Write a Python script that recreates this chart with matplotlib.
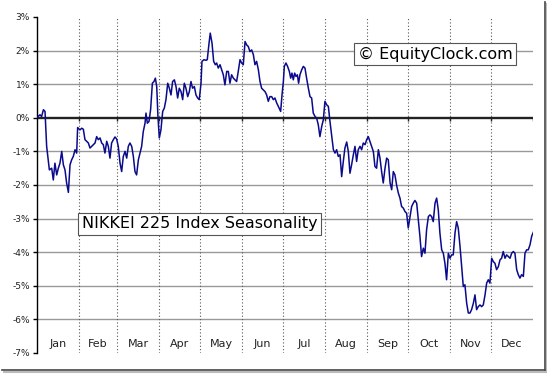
import numpy as np
import matplotlib
matplotlib.use("Agg")
import matplotlib.pyplot as plt
from matplotlib.lines import Line2D

# NIKKEI 225 seasonal profile (day of year, % change)
days = [0.2, 2.2, 3.4, 4.7, 5.9, 7.1, 9.1, 10.8, 12.0, 13.2, 14.5, 15.7, 16.9, 18.2, 19.4, 20.6, 21.8, 23.1,
        24.3, 25.5, 26.7, 28.0, 29.2, 29.9, 31.6, 32.9, 34.1, 35.3, 36.5, 37.8, 39.0, 40.2, 41.5, 42.7, 43.9, 45.1,
        46.4, 47.6, 48.8, 50.0, 51.3, 52.5, 53.7, 54.9, 56.2, 57.4, 58.6, 59.8, 61.1, 62.3, 63.5, 64.8, 66.0, 67.2,
        68.4, 69.7, 70.9, 72.1, 73.3, 74.6, 75.8, 77.0, 78.2, 79.5, 80.2, 81.2, 82.4, 83.6, 84.9, 86.1, 87.1, 88.1,
        89.0, 90.0, 91.2, 92.5, 93.7, 94.9, 96.2, 97.4, 98.6, 99.8, 101.1, 102.3, 103.5, 104.7, 106.0, 107.2, 108.4,
        109.6, 110.9, 112.1, 113.3, 114.5, 115.8, 117.0, 118.2, 119.4, 120.7, 121.4, 122.9, 124.4, 125.3, 126.6,
        127.5, 128.8, 130.0, 131.2, 132.2, 133.4, 134.7, 135.9, 137.1, 138.3, 139.6, 140.8, 142.0, 143.2, 144.5,
        145.7, 146.9, 148.1, 149.4, 150.6, 151.8, 153.1, 154.3, 155.5, 156.7, 158.0, 159.2, 160.4, 161.6, 162.9,
        164.1, 165.3, 166.5, 167.8, 169.0, 170.2, 171.4, 172.7, 173.9, 175.1, 176.4, 177.6, 179.3, 180.3, 181.3,
        182.0, 183.2, 184.4, 185.7, 186.7, 187.6, 188.6, 189.6, 190.6, 191.6, 192.5, 193.5, 194.8, 196.0, 197.2,
        198.4, 199.7, 200.9, 202.1, 203.3, 204.6, 205.8, 207.0, 208.2, 209.5, 210.7, 211.9, 213.1, 214.4, 215.6,
        216.8, 218.1, 219.3, 220.5, 221.7, 223.0, 224.2, 225.4, 226.6, 227.9, 229.1, 230.3, 231.5, 232.8, 234.0,
        235.2, 236.4, 237.7, 238.9, 240.1, 241.4, 242.6, 243.8, 245.0, 246.3, 247.5, 248.7, 249.9, 251.2, 252.4,
        253.6, 254.8, 256.1, 257.3, 258.5, 259.8, 261.0, 262.2, 263.4, 264.7, 265.9, 267.1, 268.3, 269.6, 270.8,
        272.0, 273.2, 274.5, 275.7, 276.9, 278.1, 279.4, 280.6, 281.8, 283.0, 284.3, 285.5, 286.7, 288.0, 289.2,
        290.4, 291.6, 292.9, 294.1, 295.3, 296.5, 297.8, 299.0, 300.2, 301.4, 302.7, 303.9, 305.1, 306.3, 307.6,
        308.8, 310.0, 311.3, 312.5, 313.7, 314.9, 316.2, 317.4, 318.6, 319.8, 321.1, 322.3, 323.5, 324.7, 326.0,
        327.2, 328.4, 329.7, 330.9, 332.1, 333.3, 334.6, 335.8, 337.0, 338.2, 339.5, 340.7, 341.9, 343.1, 344.4,
        345.6, 346.8, 348.1, 349.3, 350.5, 351.7, 353.0, 354.2, 355.4, 356.6, 357.9, 359.1, 360.3, 361.5, 362.8,
        364.0, 365.2]

pct = [0.02, 0.09, 0.04, 0.24, 0.19, -0.85, -1.55, -1.50, -1.85, -1.35, -1.70, -1.50, -1.35, -1.00, -1.40, -1.55,
       -1.94, -2.22,
       -1.40, -1.25, -1.15, -0.95, -1.05, -0.29, -0.36, -0.31, -0.34, -0.65, -0.70, -0.75, -0.90, -0.85, -0.80,
       -0.75, -0.56, -0.65, -0.60, -0.75, -0.80, -1.05, -0.70, -0.85, -1.20, -0.75, -0.65, -0.57,
       -0.63, -0.85, -1.35, -1.60, -1.15, -1.00, -1.20, -0.85, -0.75, -0.85, -1.15, -1.60, -1.70, -1.25, -1.05,
       -0.85, -0.41, -0.16, 0.14, -0.16, -0.11, 0.24, 1.03, 1.08, 1.18, 0.93, 0.04,
       -0.60, -0.36, 0.19, 0.29, 0.54, 1.03, 0.88, 0.68, 1.08, 1.13, 0.93, 0.59, 0.88, 0.78, 0.54, 1.03, 0.88,
       0.63, 0.78, 1.08, 0.88, 0.93, 0.68, 0.59, 0.54,
       1.03, 1.68, 1.73, 1.71, 1.73, 2.22, 2.52, 2.22, 1.68, 1.58, 1.63, 1.48, 1.58, 1.43, 1.28, 0.98, 1.38, 1.38,
       1.03, 1.28, 1.18, 1.13, 1.08, 1.38, 1.73, 1.63, 1.58,
       2.27, 2.17, 2.12, 1.97, 2.02, 1.88, 1.58, 1.68, 1.43, 1.08, 0.88, 0.83, 0.78, 0.68, 0.49, 0.63, 0.63, 0.54,
       0.59, 0.44, 0.34,
       0.19, 0.68, 1.08, 1.53, 1.63, 1.53, 1.38, 1.18, 1.33, 1.13, 1.33, 1.23, 1.28, 1.03, 1.28, 1.43, 1.53, 1.48,
       1.18, 0.88, 0.63, 0.59, 0.14, 0.04, -0.01, -0.21,
       -0.56, -0.26, -0.06, 0.49, 0.39, 0.34, -0.11, -0.51, -0.95, -1.05, -0.95, -1.15, -1.10, -1.75, -1.30,
       -0.90, -0.72, -1.00, -1.65, -1.40, -1.10, -0.85, -1.30, -0.95, -0.85, -0.95, -0.75, -0.80,
       -0.65, -0.56, -0.70, -0.85, -1.00, -1.45, -1.50, -0.95, -1.20, -1.60, -1.94, -1.50, -1.20, -1.25,
       -1.93, -2.14, -1.60, -1.70, -2.02, -2.24, -2.39, -2.64, -2.69, -2.79, -2.84, -3.28, -2.94, -2.64, -2.54,
       -2.46, -2.54, -3.04, -3.53, -4.13, -3.88, -4.03,
       -3.33, -2.94, -2.89, -2.94, -3.09, -2.54, -2.39, -2.74, -3.43, -3.93, -4.03, -4.33, -4.82, -4.03, -4.18,
       -4.08, -4.08, -3.43, -3.09, -3.28, -3.83, -4.43, -5.02, -4.97, -5.52, -5.81,
       -5.81, -5.71, -5.52, -5.27, -5.71, -5.62, -5.57, -5.62, -5.57, -5.27, -4.92, -4.82, -4.92, -4.18, -4.28,
       -4.33, -4.52, -4.43, -4.23, -4.18, -3.98, -4.18, -4.08, -4.13, -4.18, -4.03, -3.98, -4.03, -4.52, -4.67,
       -4.77, -4.67, -4.72, -4.03, -3.93, -3.93, -3.78, -3.53, -3.41]

months = ["Jan", "Feb", "Mar", "Apr", "May", "Jun", "Jul", "Aug", "Sep", "Oct", "Nov", "Dec"]
month_starts = [0, 31, 59, 90, 120, 151, 181, 212, 243, 273, 304, 334, 365]
y_ticks = [3, 2, 1, 0, -1, -2, -3, -4, -5, -6, -7]

fig = plt.figure(figsize=(5.47, 3.74), dpi=100)
ax = fig.add_axes([37 / 547, 1 - 353 / 374, 496 / 547, 336 / 374])

ax.set_xlim(0, 365)
ax.set_ylim(-7, 3)

# grid
for v in y_ticks:
    if v in (3, -7):
        continue
    if v == 0:
        ax.axhline(v, color="#222222", lw=1.7, zorder=2)
    else:
        ax.axhline(v, color="#999999", lw=1.0, zorder=1)
for b in month_starts[1:-1]:
    ax.axvline(b, color="#555555", lw=0.8, ls=(0, (1, 2)), zorder=1)
ax.vlines(month_starts[1:], -0.1, 0, color="#222222", lw=1.0, zorder=2)

ax.plot(days, pct, color="#0a0a8c", lw=1.1, zorder=3)

# month labels inside the plot at the bottom
for i, m in enumerate(months):
    mid = (month_starts[i] + month_starts[i + 1]) / 2
    ax.text(mid, -6.73, m, ha="center", va="center", fontsize=8, color="#222222")

ax.set_yticks(y_ticks)
ax.set_yticklabels([f"{v}%" for v in y_ticks], fontsize=6.5, color="#222222")
ax.set_xticks([])
ax.tick_params(axis="y", direction="out", length=3, width=1, pad=2)
for s in ["top", "right", "bottom"]:
    ax.spines[s].set_visible(False)
ax.spines["left"].set_linewidth(1.0)

box = dict(boxstyle="square,pad=0.22", facecolor="white", edgecolor="#555555", lw=0.8)
ax.text(358 / 547, 1 - 54 / 374, "\u00a9 EquityClock.com", transform=fig.transFigure,
        fontsize=11.5, ha="left", va="center", bbox=box, zorder=5)
ax.text(82 / 547, 1 - 224 / 374, "NIKKEI 225 Index Seasonality", transform=fig.transFigure,
        fontsize=11.5, ha="left", va="center", bbox=box, zorder=5)

# frame shadow on right and bottom
fig.add_artist(Line2D([545 / 547, 545 / 547], [1 - 370 / 374, 1 - 2 / 374], transform=fig.transFigure,
                      color="#444444", lw=1.2))
fig.add_artist(Line2D([2 / 547, 545 / 547], [1 - 370 / 374, 1 - 370 / 374], transform=fig.transFigure,
                      color="#444444", lw=1.2))
fig.add_artist(Line2D([546.5 / 547, 546.5 / 547], [1 - 372 / 374, 1 - 4 / 374], transform=fig.transFigure,
                      color="#bbbbbb", lw=1.5))
fig.add_artist(Line2D([4 / 547, 546.5 / 547], [1 - 372 / 374, 1 - 372 / 374], transform=fig.transFigure,
                      color="#bbbbbb", lw=1.5))

fig.savefig("out.png", dpi=100)
